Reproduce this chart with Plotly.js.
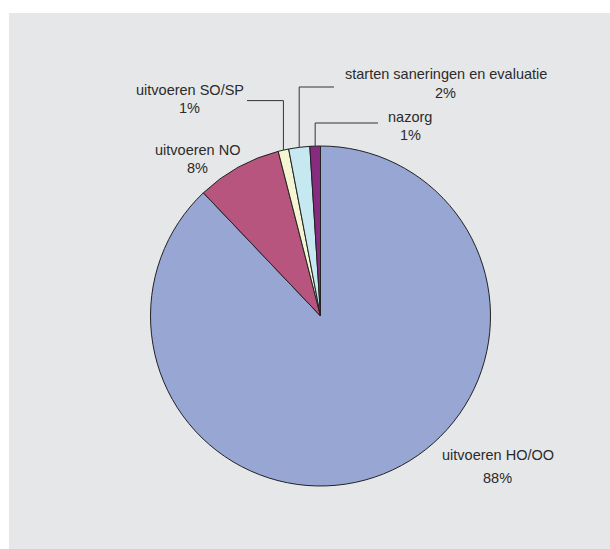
<!DOCTYPE html>
<html>
<head>
<meta charset="utf-8">
<script src="https://cdn.plot.ly/plotly-3.0.1.min.js"></script>
<style>html,body{margin:0;padding:0;background:#fff;}#chart{width:610px;height:549px;}</style>
</head>
<body>
<div id="chart"></div>
<script>
// Data
var categories = ["uitvoeren HO/OO", "uitvoeren NO", "uitvoeren SO/SP", "starten saneringen en evaluatie", "nazorg"];
var values = [87.9, 8.1, 1.0, 2.0, 1.0];
var colors = ["#97A6D3", "#B8557E", "#F4F5D3", "#C6E8F0", "#862B7F"];

var W = 610, H = 549;
var cx = 320.5, cy = 316, R = 170;
function px(x){ return x / W; }
function py(y){ return 1 - y / H; }

var total = values.reduce(function(a,b){return a+b;},0);
function pct(i){ return Math.round(values[i] / total * 100) + "%"; }
function midAngle(i){
  var c = 0; for (var k = 0; k < i; k++) c += values[k];
  c += values[i] / 2;
  return 2 * Math.PI * c / total; // clockwise from 12 o'clock
}
function edgePoint(i){
  var a = midAngle(i);
  return {x: cx + R * Math.sin(a), y: cy - R * Math.cos(a)};
}

var fontFam = "'Liberation Sans', Arial, sans-serif";
var txtColor = "#2b2b2b";
var fs = 14.5;

// label layout: [index, centerX, nameY, pctY, elbowY, lineEndX]
var labelPos = [
  [0, 498, 455, 477.5, null, null],
  [1, 197, 150, 168, null, null],
  [2, 189.5, 89.5, 108.5, 100.6, 247],
  [3, 445.5, 74, 93, 87, 334],
  [4, 410, 116.5, 134.5, 123, 378]
];

var annotations = [];
var shapes = [{
  type: "rect", xref: "paper", yref: "paper",
  x0: px(9), x1: 1, y0: 0, y1: py(13),
  fillcolor: "#E6E7E9", line: {width: 0}, layer: "below"
}];

labelPos.forEach(function(p){
  var i = p[0];
  annotations.push({xref:"paper", yref:"paper", x: px(p[1]), y: py(p[2]), xanchor:"center", yanchor:"middle",
    text: categories[i], showarrow:false, font:{family: fontFam, size: fs, color: txtColor}});
  annotations.push({xref:"paper", yref:"paper", x: px(p[1]), y: py(p[3]), xanchor:"center", yanchor:"middle",
    text: pct(i), showarrow:false, font:{family: fontFam, size: fs, color: txtColor}});
  if (p[4] !== null) {
    var e = edgePoint(i);
    shapes.push({type:"path", xref:"paper", yref:"paper",
      path: "M " + px(e.x) + "," + py(e.y) + " L " + px(e.x) + "," + py(p[4]) + " L " + px(p[5]) + "," + py(p[4]),
      line: {color: "#333333", width: 1}});
  }
});

var trace = {
  type: "pie",
  labels: categories,
  values: values,
  sort: false,
  direction: "clockwise",
  rotation: 0,
  textinfo: "none",
  hoverinfo: "label+percent",
  marker: {colors: colors, line: {color: "#222222", width: 1}},
  domain: {x: [px(cx - R), px(cx + R)], y: [py(cy + R), py(cy - R)]},
  showlegend: false
};

var layout = {
  width: W, height: H,
  margin: {l:0, r:0, t:0, b:0},
  paper_bgcolor: "#ffffff",
  showlegend: false,
  shapes: shapes,
  annotations: annotations
};

Plotly.newPlot("chart", [trace], layout, {displayModeBar: false, staticPlot: true});
</script>
</body>
</html>
